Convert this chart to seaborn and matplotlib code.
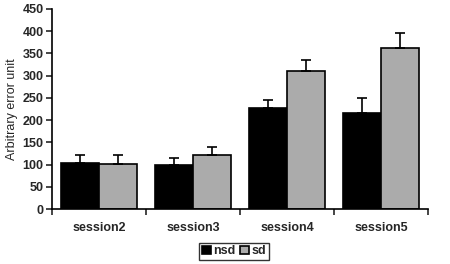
import matplotlib
matplotlib.use("Agg")
import matplotlib.pyplot as plt
import seaborn as sns
import pandas as pd
import numpy as np

sessions = ["session2", "session3", "session4", "session5"]
groups = ["nsd", "sd"]
nsd_vals = [104, 100, 227, 216]
sd_vals = [102, 122, 311, 363]
nsd_err = [18, 15, 18, 33]
sd_err = [19, 17, 25, 32]
yticks = [0, 50, 100, 150, 200, 250, 300, 350, 400, 450]

sns.set_style("white")
plt.rcParams['font.family'] = ['Liberation Sans', 'DejaVu Sans']

df = pd.DataFrame({
    "session": sessions * 2,
    "group": ["nsd"] * 4 + ["sd"] * 4,
    "value": nsd_vals + sd_vals,
})
errs = {"nsd": nsd_err, "sd": sd_err}

fig = plt.figure(figsize=(4.5, 2.64), dpi=100)
ax = fig.add_axes([0.1156, 0.2083, 0.8355, 0.7577])
sns.barplot(data=df, x="session", y="value", hue="group", order=sessions,
            hue_order=groups, palette={"nsd": "#000000", "sd": "#ababab"},
            width=0.81, gap=0, errorbar=None, edgecolor="black", linewidth=1.2,
            ax=ax, legend=True)

for cont, g in zip(ax.containers, groups):
    for i, p in enumerate(cont.patches):
        xc = p.get_x() + p.get_width() / 2
        ax.errorbar(xc, p.get_height(), yerr=[[0], [errs[g][i]]], fmt="none",
                    ecolor="black", elinewidth=1.2, capsize=3.5, capthick=1.2)

ax.set_xlim(-0.5, 3.5)
ax.set_ylim(0, 450)
ax.set_yticks(yticks)
ax.set_yticklabels([str(t) for t in yticks], fontweight="bold", fontsize=9)
ax.set_xticks([-0.5, 0.5, 1.5, 2.5, 3.5])
ax.set_xticklabels([])
ax.set_xticks(range(4), minor=True)
ax.set_xticklabels(sessions, minor=True, fontweight="bold", fontsize=9)
ax.tick_params(axis="x", which="major", length=4, width=1.2, direction="out", bottom=True)
ax.tick_params(axis="x", which="minor", length=0, pad=9)
ax.tick_params(axis="y", length=4, width=1.2, direction="out", left=True, pad=2)
ax.set_xlabel("")
ax.set_ylabel("Arbitrary error unit", fontsize=9, labelpad=3)
sns.despine(ax=ax)
for s in ["left", "bottom"]:
    ax.spines[s].set_linewidth(1.2)
    ax.spines[s].set_color("black")

handles, labels = ax.get_legend_handles_labels()
ax.legend(handles, labels, loc="center", bbox_to_anchor=(0.52, 0.048),
          bbox_transform=fig.transFigure,
          ncol=2, frameon=True, fancybox=False, edgecolor="black",
          prop={"weight": "bold", "size": 9}, handlelength=0.7, handleheight=0.7,
          handletextpad=0.2, columnspacing=0.4, borderpad=0.2, borderaxespad=0)

fig.savefig("out.png", dpi=100)
